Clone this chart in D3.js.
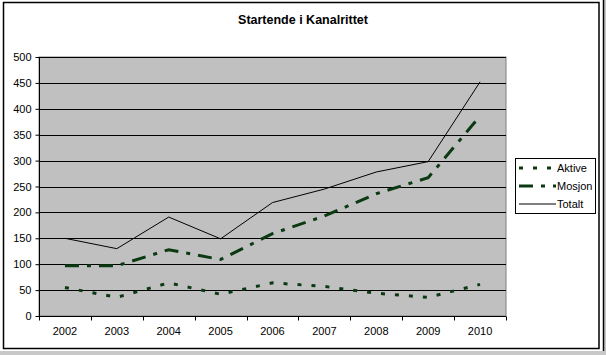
<!DOCTYPE html>
<html><head><meta charset="utf-8">
<script src="https://cdn.jsdelivr.net/npm/d3@7"></script>
<style>body{margin:0;background:#fff}svg{display:block}text{font-family:Arial,"Liberation Sans",sans-serif}</style>
</head><body>
<svg id="c" width="606" height="355"></svg>
<script>
const years = ["2002","2003","2004","2005","2006","2007","2008","2009","2010"];
const aktive = [55, 36, 64, 42, 64, 57, 44, 36, 61];
const mosjon = [97, 97, 128, 109, 159, 193, 236, 267, 386];
const totalt = [150, 130, 191, 149, 219, 245, 278, 298, 452];
const yTicks = [0,50,100,150,200,250,300,350,400,450,500];
const seriesNames = ["Aktive","Mosjon","Totalt"];

const svg = d3.select("#c");
// outer frame
svg.append("rect").attr("x",0).attr("y",0).attr("width",606).attr("height",355).attr("fill","#fff");
svg.append("rect").attr("x",603).attr("y",0).attr("width",3).attr("height",355).attr("fill","#c8c8c8");
svg.append("rect").attr("x",0).attr("y",351).attr("width",606).attr("height",4).attr("fill","#c8c8c8");
svg.append("rect").attr("x",3.5).attr("y",2.5).attr("width",595.5).attr("height",346).attr("fill","none").attr("stroke","#000").attr("stroke-width",1.5);
svg.append("line").attr("x1",603.5).attr("x2",603.5).attr("y1",0).attr("y2",351).attr("stroke","#000").attr("stroke-width",1.5);

const L=39, R=506, T=57, B=316;
const x = d3.scaleBand().domain(years).range([L,R]);
const y = d3.scaleLinear().domain([0,500]).range([B,T]);

svg.append("rect").attr("x",L).attr("y",T).attr("width",R-L).attr("height",B-T).attr("fill","#c0c0c0").attr("stroke","#808080");

// gridlines
svg.append("g").selectAll("line").data(yTicks.filter(d=>d>0)).join("line")
  .attr("x1",L).attr("x2",R).attr("y1",d=>Math.round(y(d))+0.5).attr("y2",d=>Math.round(y(d))+0.5)
  .attr("stroke","#000");

// axes
const ya = svg.append("g").attr("transform",`translate(${L+0.5},0)`)
  .call(d3.axisLeft(y).tickValues(yTicks).tickSize(4).tickPadding(4));
ya.select(".domain").attr("stroke","#000").attr("d",`M-0,${T}V${B}`);
ya.selectAll("text").attr("font-size",11).attr("fill","#000");
ya.selectAll(".tick line").attr("stroke","#000");

const xa = svg.append("g").attr("transform",`translate(0,${B+0.5})`);
xa.append("line").attr("x1",L).attr("x2",R).attr("stroke","#000");
const bounds = years.map(d=>x(d)).concat([R]);
xa.selectAll("line.t").data(bounds).join("line").attr("class","t")
  .attr("x1",d=>Math.round(d)+0.5).attr("x2",d=>Math.round(d)+0.5).attr("y1",0).attr("y2",4).attr("stroke","#000");
xa.selectAll("text").data(years).join("text")
  .attr("x",d=>x(d)+x.bandwidth()/2).attr("y",18).attr("text-anchor","middle")
  .attr("font-size",11).text(d=>d);

const line = d3.line().x((d,i)=>x(years[i])+x.bandwidth()/2).y(d=>y(d));
const styles = [
  {data:aktive, stroke:"#0b3a12", w:3, dash:"4,10"},
  {data:mosjon, stroke:"#0b3a12", w:3, dash:"14,8,4,8"},
  {data:totalt, stroke:"#000", w:1, dash:null}
];
styles.forEach(s=>{
  svg.append("path").datum(s.data).attr("d",line).attr("fill","none")
    .attr("stroke",s.stroke).attr("stroke-width",s.w).attr("stroke-dasharray",s.dash);
});

// title
svg.append("text").attr("x",303).attr("y",24).attr("text-anchor","middle")
  .attr("font-size",12.5).attr("font-weight","bold").text("Startende i Kanalrittet");

// legend
const lg = svg.append("g");
lg.append("rect").attr("x",515.5).attr("y",158.5).attr("width",80).attr("height",55).attr("fill","#fff").attr("stroke","#000");
seriesNames.forEach((n,i)=>{
  const yy = 168 + i*18;
  const s = styles[i];
  lg.append("line").attr("x1",519).attr("x2",556).attr("y1",yy).attr("y2",yy)
    .attr("stroke",s.stroke).attr("stroke-width",s.w).attr("stroke-dasharray",s.dash);
  lg.append("text").attr("x",557).attr("y",yy+4).attr("font-size",11).text(n);
});
</script>
</body></html>
